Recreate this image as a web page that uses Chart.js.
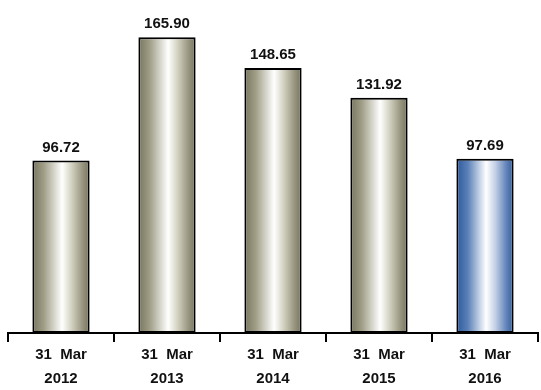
<!DOCTYPE html>
<html>
<head>
<meta charset="utf-8">
<script src="https://cdn.jsdelivr.net/npm/chart.js@4/dist/chart.umd.min.js"></script>
<style>
html,body{margin:0;padding:0;background:#fff;}
canvas{display:block;}
</style>
</head>
<body>
<canvas id="c" width="541" height="390"></canvas>
<script>
const categories = [["31  Mar","2012"],["31  Mar","2013"],["31  Mar","2014"],["31  Mar","2015"],["31  Mar","2016"]];
const values = [96.72, 165.90, 148.65, 131.92, 97.69];
const valueLabels = ["96.72","165.90","148.65","131.92","97.69"];
const highlightIndex = [4];

const FONT = "'Liberation Sans', Arial, Helvetica, sans-serif";
const BAR_PCT = 0.54;

function barGradient(ctx) {
  const chart = ctx.chart;
  const xs = chart.scales && chart.scales.x;
  if (!chart.chartArea || !xs) return '#9a9780';
  const cx = xs.getPixelForValue(ctx.dataIndex);
  const w = (xs.width / categories.length) * BAR_PCT;
  const g = chart.ctx.createLinearGradient(cx - w/2, 0, cx + w/2, 0);
  if (highlightIndex.includes(ctx.dataIndex)) {
    g.addColorStop(0, '#2b5a9b');
    g.addColorStop(0.2, '#5b80b8');
    g.addColorStop(0.52, '#ffffff');
    g.addColorStop(0.68, '#c4d0e6');
    g.addColorStop(0.88, '#5e81b7');
    g.addColorStop(1, '#335f9f');
  } else {
    g.addColorStop(0, '#78755d');
    g.addColorStop(0.2, '#a09e87');
    g.addColorStop(0.52, '#ffffff');
    g.addColorStop(0.68, '#d4d3c3');
    g.addColorStop(0.88, '#96947e');
    g.addColorStop(1, '#77745c');
  }
  return g;
}

const labelPlugin = {
  id: 'valueLabels',
  afterDatasetsDraw(chart) {
    const c = chart.ctx;
    const meta = chart.getDatasetMeta(0);
    c.save();
    c.font = 'bold 15px ' + FONT;
    c.fillStyle = '#111';
    c.textAlign = 'center';
    c.textBaseline = 'alphabetic';
    meta.data.forEach((bar, i) => {
      c.fillText(valueLabels[i], bar.x, bar.y - 9);
    });
    c.restore();
  }
};

new Chart(document.getElementById('c'), {
  type: 'bar',
  data: {
    labels: categories,
    datasets: [{
      data: values,
      backgroundColor: barGradient,
      borderColor: '#000',
      borderWidth: 2,
      borderSkipped: false,
      barPercentage: BAR_PCT,
      categoryPercentage: 1
    }]
  },
  options: {
    responsive: false,
    animation: false,
    layout: { padding: { top: 12, left: 8, right: 3, bottom: 0 } },
    plugins: { legend: { display: false }, tooltip: { enabled: false } },
    scales: {
      y: { display: false, min: 0, max: 180 },
      x: {
        offset: true,
        border: { display: true, color: '#000', width: 2 },
        grid: { offset: true, drawOnChartArea: false, drawTicks: true, tickLength: 9, color: '#000', lineWidth: 2 },
        ticks: {
          color: '#111',
          padding: 0,
          maxRotation: 0,
          autoSkip: false,
          font: { family: FONT, size: 15, weight: 'bold', lineHeight: 1.65 }
        },
        afterFit(scale) { scale.height = 57; }
      }
    }
  },
  plugins: [labelPlugin]
});
</script>
</body>
</html>
